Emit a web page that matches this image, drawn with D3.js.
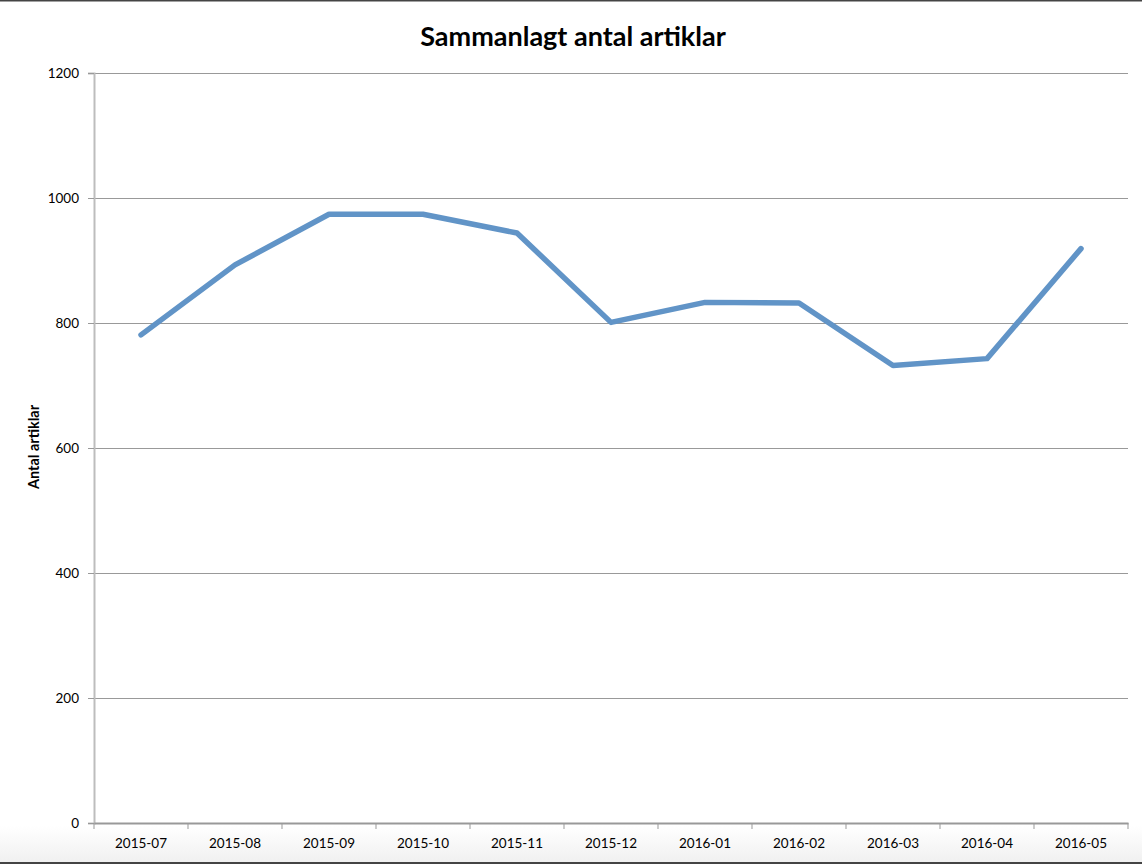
<!DOCTYPE html>
<html>
<head>
<meta charset="utf-8">
<script src="https://cdn.jsdelivr.net/npm/d3@7"></script>
<style>
  html, body { margin: 0; padding: 0; background: #fff; }
  svg { display: block; }
  text { font-family: Lato, "Open Sans", sans-serif; fill: #000; }
</style>
</head>
<body>
<script>
const categories = ["2015-07","2015-08","2015-09","2015-10","2015-11","2015-12","2016-01","2016-02","2016-03","2016-04","2016-05"];
const values = [781, 893, 974, 974, 944, 801, 833, 832, 732, 743, 919];
const yTicks = [0, 200, 400, 600, 800, 1000, 1200];
const titleText = "Sammanlagt antal artiklar";
const yLabel = "Antal artiklar";

const W = 1142, H = 864;
const m = { left: 94, right: 14, top: 73, bottom: 41 };

const svg = d3.select("body").append("svg").attr("width", W).attr("height", H);

const defs = svg.append("defs");
const grad = defs.append("linearGradient").attr("id", "bg").attr("x1", 0).attr("y1", 0).attr("x2", 0).attr("y2", 1);
grad.append("stop").attr("offset", "0").attr("stop-color", "#ffffff");
grad.append("stop").attr("offset", "1").attr("stop-color", "#f0f0f0");

svg.append("rect").attr("x", 0).attr("y", 826).attr("width", W).attr("height", 37).attr("fill", "url(#bg)");
svg.append("rect").attr("x", 0).attr("y", 0).attr("width", W).attr("height", 1.5).attr("fill", "#444");
svg.append("rect").attr("x", 0).attr("y", 862).attr("width", W).attr("height", 2).attr("fill", "#444");

const x = d3.scaleBand().domain(categories).range([m.left, W - m.right]).padding(0);
const y = d3.scaleLinear().domain([0, 1200]).range([H - m.bottom, m.top]);

// gridlines
svg.append("g").selectAll("line").data(yTicks.filter(d => d > 0)).join("line")
  .attr("x1", m.left - 6).attr("x2", W - m.right)
  .attr("y1", d => Math.round(y(d)) + 0.5).attr("y2", d => Math.round(y(d)) + 0.5)
  .attr("stroke", "#999").attr("stroke-width", 1);

// y axis
const yAxis = svg.append("g").attr("transform", `translate(${m.left},0)`)
  .call(d3.axisLeft(y).tickValues(yTicks).tickFormat(d3.format("d")).tickSize(6).tickPadding(9));
yAxis.select(".domain").attr("stroke", "#bdbdbd").attr("stroke-width", 2);
yAxis.selectAll(".tick line").attr("stroke", "#999");
yAxis.selectAll(".tick text").attr("font-size", 13.5).attr("font-family", "Lato, sans-serif").attr("fill", "#000");

// x axis
const xAxis = svg.append("g").attr("transform", `translate(0,${H - m.bottom})`)
  .call(d3.axisBottom(x).tickSize(0).tickPadding(15));
xAxis.select(".domain").attr("stroke", "#999").attr("stroke-width", 2);
xAxis.selectAll(".tick text").attr("font-size", 13.5).attr("font-family", "Lato, sans-serif").attr("fill", "#000");
// boundary ticks
const bounds = categories.map(c => x(c)).concat([x(categories[categories.length - 1]) + x.bandwidth()]);
xAxis.append("g").selectAll("line").data(bounds).join("line")
  .attr("x1", d => d).attr("x2", d => d).attr("y1", 0).attr("y2", 6)
  .attr("stroke", "#999").attr("stroke-width", 1);

// line
const line = d3.line().x((d, i) => x(categories[i]) + x.bandwidth() / 2).y(d => y(d));
svg.append("path").datum(values).attr("d", line)
  .attr("fill", "none").attr("stroke", "#6194c7").attr("stroke-width", 5.5)
  .attr("stroke-linecap", "round").attr("stroke-linejoin", "round");

// title
svg.append("text").attr("x", 573).attr("y", 46).attr("text-anchor", "middle")
  .attr("font-size", 27).attr("font-weight", "bold").text(titleText);

// y label
svg.append("text").attr("transform", "translate(39,447) rotate(-90)").attr("text-anchor", "middle")
  .attr("font-size", 14.5).attr("font-weight", "bold").text(yLabel);
</script>
</body>
</html>
